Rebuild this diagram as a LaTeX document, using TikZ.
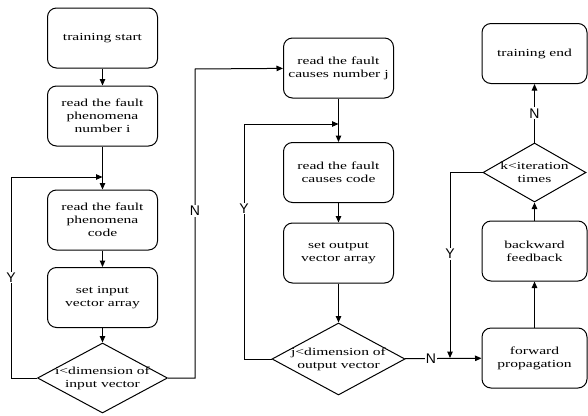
\documentclass[tikz,border=0pt]{standalone}
\usepackage{fontspec}
\setmainfont{Liberation Serif}[FakeStretch=1.44]
\newfontfamily\labelfont{Liberation Sans}
\usepackage{tikz}
\usetikzlibrary{shapes,arrows,positioning,calc,arrows.meta}

\begin{document}
\begin{tikzpicture}[x=1pt,y=-1pt,
    box/.style={draw, line width=1pt, rounded corners=9pt, minimum width=110pt, minimum height=60pt,
        align=center, inner sep=2pt, font=\fontsize{10.8}{13}\selectfont},
    decision/.style={draw, line width=1pt, shape=diamond, aspect=2, inner xsep=-10pt, inner ysep=-10pt,
        align=center, font=\fontsize{10.8}{13}\selectfont},
    arr/.style={line width=1pt, -{Triangle[length=6.5pt,width=5.5pt]}},
    lbl/.style={fill=white, inner sep=1pt, font=\labelfont\fontsize{14}{14}\selectfont}]
    \useasboundingbox (0,0) rectangle (588,415);

    % First column
    \node[box] (start) at (102.5,38) {training start};
    \node[box] (numi) at (102.5,116) {read the fault\\phenomena\\number i};
    \node[box] (codei) at (102.5,220) {read the fault\\phenomena\\code};
    \node[box] (setin) at (102.5,297.5) {set input\\vector array};
    \node[decision, minimum width=130pt, minimum height=70pt] (deci) at (102.5,378) {i<dimension of\\input vector};

    % Second column
    \node[box] (numj) at (338.5,68) {read the fault\\causes number j};
    \node[box] (codej) at (338.5,172.5) {read the fault\\causes code};
    \node[box] (setout) at (338.5,253) {set output\\vector array};
    \node[decision, minimum width=133pt, minimum height=72pt] (decj) at (338.5,359) {j<dimension of\\output vector};

    % Third column
    \node[box, minimum width=105pt] (tend) at (534.5,53.5) {training end};
    \node[decision, minimum width=103pt, minimum height=59pt] (kdec) at (534.5,172.5) {k<iteration\\times};
    \node[box, minimum width=105pt] (bwd) at (534.5,251) {backward\\feedback};
    \node[box, minimum width=105pt] (fwd) at (534.5,358) {forward\\propagation};

    % Loop corners
    \coordinate (loopi) at (11,177);
    \coordinate (loopn) at (195,69);
    \coordinate (loopj) at (244,124);
    \coordinate (jn) at (450,358);

    % Straight arrows
    \draw[arr] (start) -- (numi);
    \draw[arr] (numi) -- (codei);
    \draw[arr] (codei) -- (setin);
    \draw[arr] (setin) -- (deci);
    \draw[arr] (numj) -- (codej);
    \draw[arr] (codej) -- (setout);
    \draw[arr] (setout) -- (decj);
    \draw[arr] (fwd) -- (bwd);
    \draw[arr] (bwd) -- (kdec);
    \draw[arr] (kdec) -- node[lbl, pos=0.5] {N} (tend);

    % Loops
    \draw[arr] (deci.west) -| node[lbl, pos=0.75] {Y} (loopi) -- (loopi -| numi);
    \draw[arr] (deci.east) -| node[lbl, pos=0.77] {N} (loopn) -- (numj);
    \draw[arr] (decj.west) -| node[lbl, pos=0.82] {Y} (loopj) -- (loopj -| codej);
    \draw[arr] (decj) -- node[lbl, pos=0.34] {N} (fwd);
    \draw[arr] (kdec.west) -| node[lbl, pos=0.72] {Y} (jn);
\end{tikzpicture}
\end{document}
